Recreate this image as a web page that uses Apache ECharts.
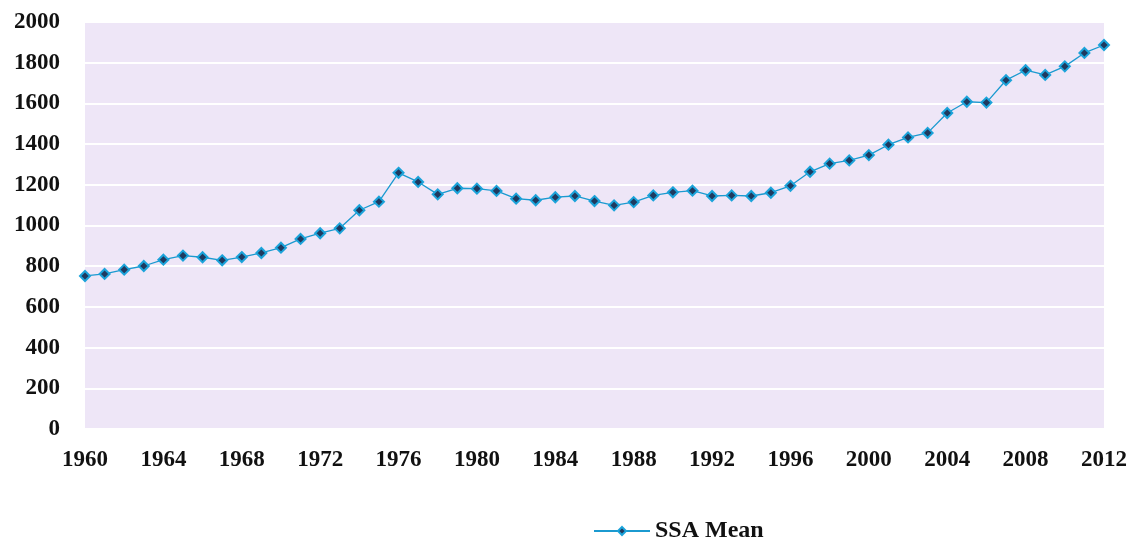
<!DOCTYPE html>
<html>
<head>
<meta charset="utf-8">
<script src="https://cdn.jsdelivr.net/npm/echarts@6/dist/echarts.min.js"></script>
<style>
  html, body { margin: 0; padding: 0; background: #fff; }
  #chart { width: 1132px; height: 540px; }
</style>
</head>
<body>
<div id="chart"></div>
<script>
// years 1960..2012
var years = []
for (var y = 1960; y <= 2012; y++) years.push(String(y))

// SSA Mean
var ssaMean = [
  752, 762, 783, 801, 832, 852, 844, 829, 845, 865,
  891, 934, 962, 986, 1075, 1117, 1259, 1214, 1153, 1183,
  1181, 1170, 1132, 1124, 1139, 1145, 1120, 1099, 1115, 1148,
  1163, 1171, 1145, 1148, 1145, 1161, 1195, 1264, 1304, 1320,
  1346, 1397, 1433, 1455, 1553, 1608, 1604, 1714, 1763, 1740,
  1782, 1848, 1887
]

var labelFont = {
  fontFamily: 'Liberation Serif',
  fontWeight: 'bold',
  fontSize: 23,
  color: '#111'
}

var option = {
  animation: false,
  grid: {
    left: 85,
    right: 28,
    top: 22,
    bottom: 111,
    show: true,
    backgroundColor: '#EEE6F7',
    borderWidth: 0
  },
  legend: {
    top: 514,
    left: 588,
    itemWidth: 56,
    itemHeight: 10,
    itemGap: 6,
    textStyle: Object.assign({}, labelFont, { fontSize: 24 }),
    data: ['SSA Mean']
  },
  xAxis: {
    type: 'category',
    data: years,
    boundaryGap: false,
    axisLine: { show: false },
    axisTick: { show: false },
    axisLabel: Object.assign({ interval: 3, margin: 20 }, labelFont)
  },
  yAxis: {
    type: 'value',
    min: 0,
    max: 2000,
    interval: 200,
    axisLine: { show: false },
    axisTick: { show: false },
    axisLabel: Object.assign({
      margin: 25,
      formatter: function (v) { return String(v) }
    }, labelFont),
    splitLine: {
      show: true,
      lineStyle: { color: '#ffffff', width: 2 }
    }
  },
  series: [
    {
      name: 'SSA Mean',
      type: 'line',
      data: ssaMean,
      symbol: 'diamond',
      symbolSize: 10,
      lineStyle: { color: '#1B9AD0', width: 1.3 },
      itemStyle: {
        color: '#1F3A5F',
        borderColor: '#1BA3DA',
        borderWidth: 2
      }
    }
  ]
}

var myChart = echarts.init(document.getElementById('chart'))
myChart.setOption(option)
</script>
</body>
</html>
